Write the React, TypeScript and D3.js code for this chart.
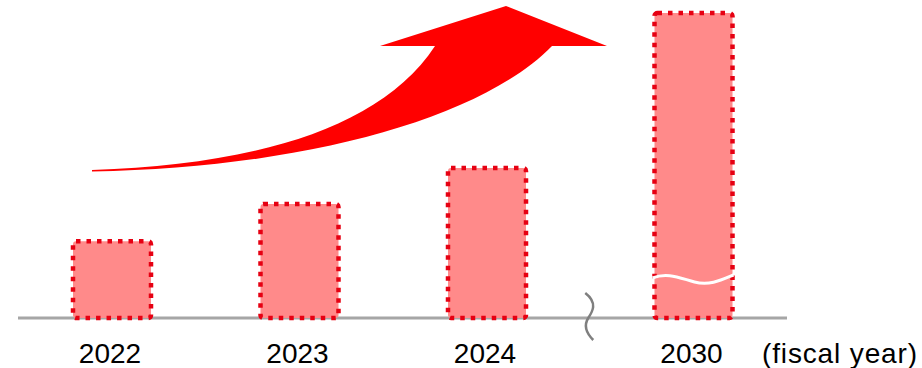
import React from "react";
import * as d3 from "d3";

const years = ["2022", "2023", "2024", "2030"];
const values = [25.2, 37.4, 49.2, 100];
const axisLabel = "(fiscal year)";
const breakAfter = "2024";

const W = 922;
const H = 368;
const baseY = 318;
const barW = 78;
const breakGap = 19;

export default function App() {
  const x = d3.scalePoint<string>().domain(years).range([112, 674.5]);
  const y = d3.scaleLinear().domain([0, 100]).range([baseY, 13]);
  const bi = years.indexOf(breakAfter);
  const cx = (yr: string) => (x(yr) as number) + (years.indexOf(yr) > bi ? breakGap : 0);

  // curved arrow
  const arrow = d3.path();
  arrow.moveTo(92, 170);
  arrow.bezierCurveTo(250, 165, 380, 130, 435, 46);
  arrow.lineTo(380, 46);
  arrow.lineTo(506, 6);
  arrow.lineTo(607, 46);
  arrow.lineTo(552, 46);
  arrow.bezierCurveTo(480, 120, 300, 168, 92, 171.5);
  arrow.closePath();

  const breakX = (cx(breakAfter) + cx(years[bi + 1])) / 2;
  const last = years[years.length - 1];
  const lx = cx(last);

  return (
    <svg
      width={W}
      height={H}
      style={{ position: "absolute", left: 0, top: 0 }}
      fontFamily="'Liberation Sans', Arial, sans-serif"
    >
      <rect width={W} height={H} fill="#fff" />
      <line x1={18} x2={787} y1={baseY} y2={baseY} stroke="#a6a6a6" strokeWidth={2.8} />
      {years.map((yr, i) => (
        <rect
          key={yr}
          x={cx(yr) - barW / 2}
          y={y(values[i])}
          width={barW}
          height={baseY - y(values[i])}
          rx={3}
          fill="#ff8a8a"
          stroke="#e60012"
          strokeWidth={4.5}
          strokeDasharray="4.5 6"
        />
      ))}
      {/* white wave on the broken bar */}
      <path
        d={`M${lx - 41},278 C${lx - 26},272 ${lx - 14},278 ${lx + 1},282 C${lx + 16},286 ${lx + 28},280 ${lx + 40},275`}
        fill="none"
        stroke="#fff"
        strokeWidth={3}
      />
      {/* axis break symbol */}
      <path
        d={`M${breakX - 5},293 C${breakX + 8},303 ${breakX + 2},312 ${breakX - 2},318 C${breakX - 7},326 ${breakX - 4},333 ${breakX + 3},340`}
        fill="none"
        stroke="#7f7f7f"
        strokeWidth={2.5}
      />
      <path d={arrow.toString()} fill="#ff0000" />
      {years.map((yr) => (
        <text key={yr} x={cx(yr) - 2} y={363} textAnchor="middle" fontSize={28} fill="#000">
          {yr}
        </text>
      ))}
      <text x={762} y={363} fontSize={28} textLength={155} fill="#000">
        {axisLabel}
      </text>
    </svg>
  );
}
